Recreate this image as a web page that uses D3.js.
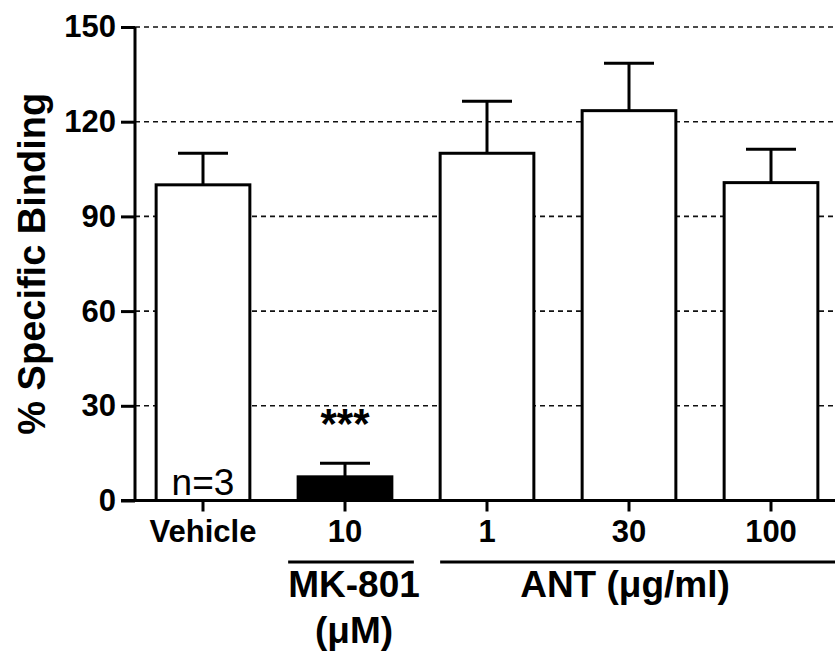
<!DOCTYPE html>
<html>
<head>
<meta charset="utf-8">
<script src="https://cdn.jsdelivr.net/npm/d3@7"></script>
<style>
  body { margin: 0; background: #fff; }
  text { font-family: "Liberation Sans", Arial, sans-serif; fill: #000; }
</style>
</head>
<body>
<div id="chart"></div>
<script>
const categories = ["Vehicle", "10", "1", "30", "100"];
const means = [100, 7.5, 110, 123.5, 100.7];
const sems = [10, 4.3, 16.5, 15, 10.6];
const yTicks = [0, 30, 60, 90, 120, 150];
const groups = [
    { lines: ["MK-801", "(\u03bcM)"], from: "10", to: "10" },
    { lines: ["ANT (\u03bcg/ml)"], from: "1", to: "100" }
];
const nLabel = "n=3";
const sigLabel = "***";
const sigIndex = 1;

let width = 835, height = 653;
let svg = d3.select("#chart").append("svg")
    .attr("width", width)
    .attr("height", height);

let x = d3.scaleBand()
    .domain(categories)
    .range([132, 842])
    .paddingInner(0.34)
    .paddingOuter(0.17);

let y = d3.scaleLinear()
    .domain([0, 150])
    .range([500.5, 27]);

// dashed grid
svg.selectAll(".grid")
    .data(yTicks.filter(d => d > 0))
    .enter()
    .append("line")
    .attr("x1", 135)
    .attr("x2", width)
    .attr("y1", d => y(d))
    .attr("y2", d => y(d))
    .attr("stroke", "#111")
    .attr("stroke-width", 1.6)
    .attr("stroke-dasharray", "5,4");

// error bars
let err = svg.selectAll(".err")
    .data(categories)
    .enter()
    .append("g")
    .attr("stroke", "#000")
    .attr("stroke-width", 3);

err.append("line")
    .attr("x1", d => x(d) + x.bandwidth() / 2)
    .attr("x2", d => x(d) + x.bandwidth() / 2)
    .attr("y1", (d, i) => y(means[i]))
    .attr("y2", (d, i) => y(means[i] + sems[i]));

err.append("line")
    .attr("x1", d => x(d) + x.bandwidth() / 2 - 25)
    .attr("x2", d => x(d) + x.bandwidth() / 2 + 25)
    .attr("y1", (d, i) => y(means[i] + sems[i]))
    .attr("y2", (d, i) => y(means[i] + sems[i]));

// bars
svg.selectAll(".bar")
    .data(categories)
    .enter()
    .append("rect")
    .attr("x", d => x(d))
    .attr("width", x.bandwidth())
    .attr("y", (d, i) => y(means[i]))
    .attr("height", (d, i) => y(0) - y(means[i]))
    .attr("fill", (d, i) => i === sigIndex ? "#000" : "#fff")
    .attr("stroke", "#000")
    .attr("stroke-width", 3);

// y axis
let yAxis = svg.append("g")
    .attr("transform", "translate(135,0)")
    .call(d3.axisLeft(y).tickValues(yTicks).tickSize(14).tickPadding(5));
yAxis.select(".domain").attr("stroke-width", 3).attr("d", `M0,${y(150)}V${y(0)}`);
yAxis.selectAll(".tick line").attr("stroke-width", 3);
yAxis.selectAll(".tick text")
    .attr("font-size", 31)
    .attr("font-weight", "bold")
    .attr("font-family", "Liberation Sans, Arial, sans-serif");

// x axis
let xAxis = svg.append("g")
    .attr("transform", `translate(0,${y(0)})`)
    .call(d3.axisBottom(x).tickSize(11).tickPadding(8));
xAxis.select(".domain").attr("stroke-width", 3).attr("d", `M121,0H${width}`);
xAxis.selectAll(".tick line").attr("stroke-width", 3);
xAxis.selectAll(".tick text")
    .attr("font-size", 31)
    .attr("font-weight", "bold")
    .attr("font-family", "Liberation Sans, Arial, sans-serif");

// group labels
groups.forEach(g => {
    let x1 = x(g.from), x2 = Math.min(x(g.to) + x.bandwidth() + 30, width + 5);
    if (g.from === g.to) { x1 = x(g.from) - 10; x2 = x(g.to) + x.bandwidth() + 22; }
    svg.append("line")
        .attr("x1", x1).attr("x2", x2)
        .attr("y1", 562).attr("y2", 562)
        .attr("stroke", "#000").attr("stroke-width", 3);
    let cx = g.from === g.to
        ? x(g.from) + x.bandwidth() / 2 + 9
        : (x(g.from) + x(g.to) + x.bandwidth()) / 2 - 4;
    g.lines.forEach((t, k) => {
        svg.append("text")
            .attr("x", cx)
            .attr("y", 597 + k * 46)
            .attr("text-anchor", "middle")
            .attr("font-size", 37)
            .attr("font-weight", "bold")
            .text(t);
    });
});

// y label
svg.append("text")
    .attr("transform", `translate(45,${(y(0) + y(150)) / 2}) rotate(-90)`)
    .attr("text-anchor", "middle")
    .attr("font-size", 38)
    .attr("font-weight", "bold")
    .text("% Specific Binding");

// n label
svg.append("text")
    .attr("x", x(categories[0]) + x.bandwidth() / 2)
    .attr("y", 495)
    .attr("text-anchor", "middle")
    .attr("font-size", 37)
    .text(nLabel);

// significance
svg.append("text")
    .attr("x", x(categories[sigIndex]) + x.bandwidth() / 2)
    .attr("y", 438)
    .attr("text-anchor", "middle")
    .attr("font-size", 42)
    .attr("font-weight", "bold")
    .text(sigLabel);
</script>
</body>
</html>
